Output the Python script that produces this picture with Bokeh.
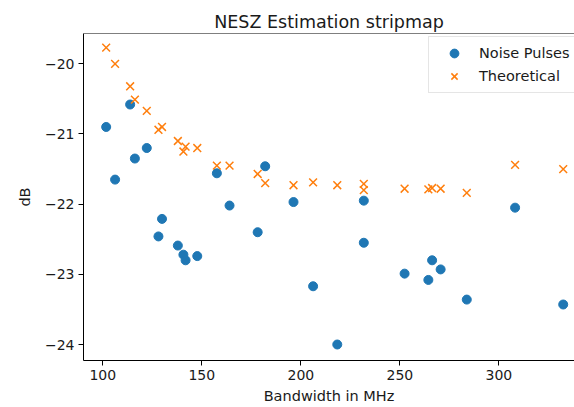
from bokeh.plotting import figure
from bokeh.models import Range1d, FixedTicker, Span, Legend, LegendItem
from bokeh.embed import file_html
from bokeh.resources import INLINE

# ---- data ----
bandwidth = [101.7, 106.2, 113.8, 116.2, 122.2, 128.1, 129.9, 137.9, 140.7, 141.8,
             147.7, 157.6, 164.0, 178.2, 182.0, 196.3, 206.2, 218.4, 231.8, 231.8,
             252.4, 264.4, 266.3, 270.6, 283.8, 308.2, 332.5]
noise_pulses = [-20.90, -21.65, -20.58, -21.35, -21.20, -22.46, -22.21, -22.59, -22.72, -22.80,
                -22.74, -21.56, -22.02, -22.40, -21.46, -21.97, -23.17, -24.00, -21.95, -22.55,
                -22.99, -23.08, -22.80, -22.93, -23.36, -22.05, -23.43]
theoretical = [-19.77, -20.00, -20.32, -20.51, -20.67, -20.94, -20.90, -21.10, -21.25, -21.18,
               -21.20, -21.45, -21.45, -21.57, -21.70, -21.73, -21.69, -21.73, -21.71, -21.80,
               -21.78, -21.79, -21.77, -21.78, -21.84, -21.44, -21.50]

x_ticks = [100, 150, 200, 250, 300]
y_ticks = [-24, -23, -22, -21, -20]
y_tick_labels = ["\u221224", "\u221223", "\u221222", "\u221221", "\u221220"]

title_text = "NESZ Estimation stripmap"
x_label = "Bandwidth in MHz"
y_label = "dB"
series_names = ["Noise Pulses", "Theoretical"]

BLUE = "#1f77b4"
ORANGE = "#ff7f0e"
FONT = "DejaVu Sans"

x_start, x_end = 90.25, 338.2
y_start, y_end = -24.228, -19.568

p = figure(width=574, height=407, output_backend="svg", toolbar_location=None,
           x_range=Range1d(x_start, x_end), y_range=Range1d(y_start, y_end),
           min_border_left=83, min_border_right=0, min_border_top=33, min_border_bottom=47,
           title=title_text)

p.background_fill_color = "white"
p.border_fill_color = "white"
p.outline_line_color = None
p.grid.visible = False

r1 = p.scatter(bandwidth, noise_pulses, marker="circle", size=9,
               fill_color=BLUE, line_color=BLUE)
r2 = p.scatter(bandwidth, theoretical, marker="x", size=11,
               line_color=ORANGE, line_width=1.5)

# top spine
p.add_layout(Span(location=y_end, dimension="width", line_color="black", line_width=1))

p.xaxis.ticker = FixedTicker(ticks=x_ticks)
p.yaxis.ticker = FixedTicker(ticks=y_ticks)
p.yaxis.major_label_overrides = {t: l for t, l in zip(y_ticks, y_tick_labels)}
p.xaxis.axis_label = x_label
p.yaxis.axis_label = y_label

for ax in (p.xaxis, p.yaxis):
    ax.axis_line_color = "black"
    ax.axis_line_width = 1
    ax.major_tick_line_color = "black"
    ax.major_tick_out = 5
    ax.major_tick_in = 0
    ax.minor_tick_line_color = None
    ax.major_label_text_font = FONT
    ax.major_label_text_font_size = "14px"
    ax.major_label_text_color = "#1a1a1a"
    ax.major_label_standoff = 4
    ax.axis_label_text_font = FONT
    ax.axis_label_text_font_size = "14.5px"
    ax.axis_label_text_font_style = "normal"
    ax.axis_label_text_color = "#1a1a1a"
p.xaxis.axis_label_standoff = 5
p.yaxis.axis_label_standoff = 9

p.title.text_font = FONT
p.title.text_font_size = "17.5px"
p.title.text_font_style = "normal"
p.title.text_color = "#1a1a1a"
p.title.align = "center"
p.title.standoff = 4

legend = Legend(items=[LegendItem(label=series_names[0], renderers=[r1]),
                       LegendItem(label=series_names[1], renderers=[r2])],
                location=(345, 267))
legend.margin = 0
legend.padding = 5
legend.spacing = 1
legend.glyph_width = 40
legend.glyph_height = 22
legend.label_standoff = 5
legend.label_width = 110
legend.label_text_font = FONT
legend.label_text_font_size = "14.5px"
legend.label_text_color = "#1a1a1a"
legend.border_line_color = "#cccccc"
legend.border_line_width = 1
legend.background_fill_color = "white"
legend.background_fill_alpha = 0.8
p.add_layout(legend)

open("out.html", "w").write(file_html(p, INLINE))
